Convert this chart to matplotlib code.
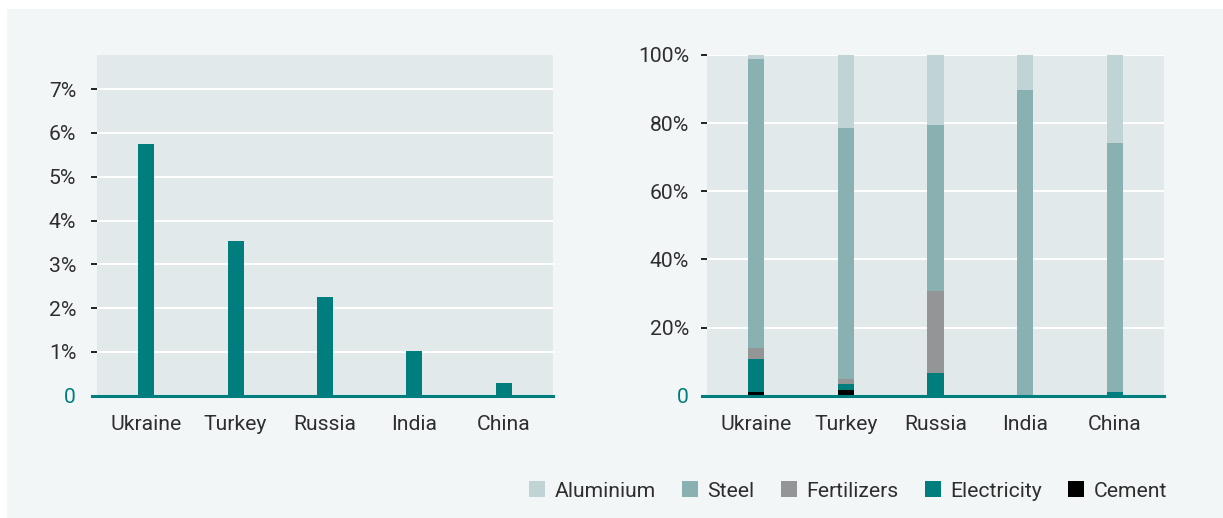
import matplotlib
matplotlib.use("Agg")
import matplotlib.pyplot as plt
from matplotlib.patches import Rectangle, Patch
import numpy as np

plt.rcParams['font.family'] = ['Roboto', 'DejaVu Sans']

countries = ["Ukraine", "Turkey", "Russia", "India", "China"]
share_total = [5.75, 3.53, 2.25, 1.02, 0.29]  # % (left panel)

# right panel: composition in %
cement      = [1.2, 1.8, 0.0, 0.3, 0.2]
electricity = [9.6, 1.5, 6.8, 0.0, 1.0]
fertilizers = [3.1, 1.7, 23.8, 0.0, 0.0]
steel       = [84.8, 73.6, 48.9, 89.5, 72.9]
aluminium   = [1.3, 21.4, 20.5, 10.2, 25.9]

left_ticks = [0, 1, 2, 3, 4, 5, 6, 7]
left_ticklabels = ["0", "1%", "2%", "3%", "4%", "5%", "6%", "7%"]
right_ticks = [0, 20, 40, 60, 80, 100]
right_ticklabels = ["0", "20%", "40%", "60%", "80%", "100%"]

TEAL = "#007e7e"
PLOT_BG = "#e1e9ea"
PANEL_BG = "#f3f6f7"
TEXT = "#2e2e2e"
FS = 15.2
FW = "normal"
colors = {"Aluminium": "#c0d4d6", "Steel": "#89b1b2", "Fertilizers": "#939596",
          "Electricity": TEAL, "Cement": "#000000"}

W, H = 1223, 518
fig = plt.figure(figsize=(W / 100, H / 100), dpi=100)
fig.patch.set_facecolor("white")
fig.patches.append(Rectangle((7 / W, 0), 1 - 7 / W, 1 - 9 / H, transform=fig.transFigure,
                             facecolor=PANEL_BG, edgecolor="none", zorder=-10))

bottom = (H - 395.7) / H
height = (395.7 - 55) / H
ax1 = fig.add_axes([97 / W, bottom, (553 - 97) / W, height])
ax2 = fig.add_axes([707 / W, bottom, (1164 - 707) / W, height])

x = np.arange(len(countries))
bw = 0.18


def style(ax, ticks, labels, ymax, ypad):
    ax.set_facecolor(PLOT_BG)
    for s in ax.spines.values():
        s.set_visible(False)
    ax.set_ylim(0, ymax)
    ax.set_xlim(-0.55, 4.55)
    ax.set_yticks(ticks)
    ax.set_yticklabels(labels, fontweight=FW)
    ax.set_xticks(x)
    ax.set_xticklabels(countries, fontweight=FW)
    ax.tick_params(axis='x', length=0, pad=14, labelsize=FS, labelcolor=TEXT)
    ax.tick_params(axis='y', length=4, width=1.4, color="#222222", pad=ypad,
                   labelsize=FS, labelcolor=TEXT)
    ax.get_yticklabels()[0].set_color(TEAL)
    ax.yaxis.get_major_ticks()[0].tick1line.set_visible(False)
    ax.grid(axis='y', color="white", linewidth=1.5)
    ax.set_axisbelow(True)
    ax.axhline(0, xmin=-0.012, xmax=1.0, color=TEAL, linewidth=2.2, clip_on=False, zorder=5)


style(ax1, left_ticks, left_ticklabels, (395.7 - 55) / 43.8, 11)
ax1.bar(x, share_total, width=bw, color=TEAL, zorder=3)

style(ax2, right_ticks, right_ticklabels, 100, 9)
base = np.zeros(len(countries))
series = [("Cement", cement), ("Electricity", electricity), ("Fertilizers", fertilizers),
          ("Steel", steel), ("Aluminium", aluminium)]
for name, vals in series:
    ax2.bar(x, vals, width=bw, bottom=base, color=colors[name], zorder=3, linewidth=0)
    base = base + np.array(vals)

handles = [Patch(facecolor=colors[n], edgecolor="none", label=n)
           for n in ["Aluminium", "Steel", "Fertilizers", "Electricity", "Cement"]]
fig.legend(handles=handles, loc="center right", bbox_to_anchor=(1186 / W, (H - 491) / H),
           ncol=5, frameon=False, handlelength=0.75, handleheight=0.75, handletextpad=0.45,
           columnspacing=1.25, prop={"size": FS, "weight": FW}, labelcolor=TEXT)

fig.savefig("out.png", dpi=100, facecolor=fig.get_facecolor())
